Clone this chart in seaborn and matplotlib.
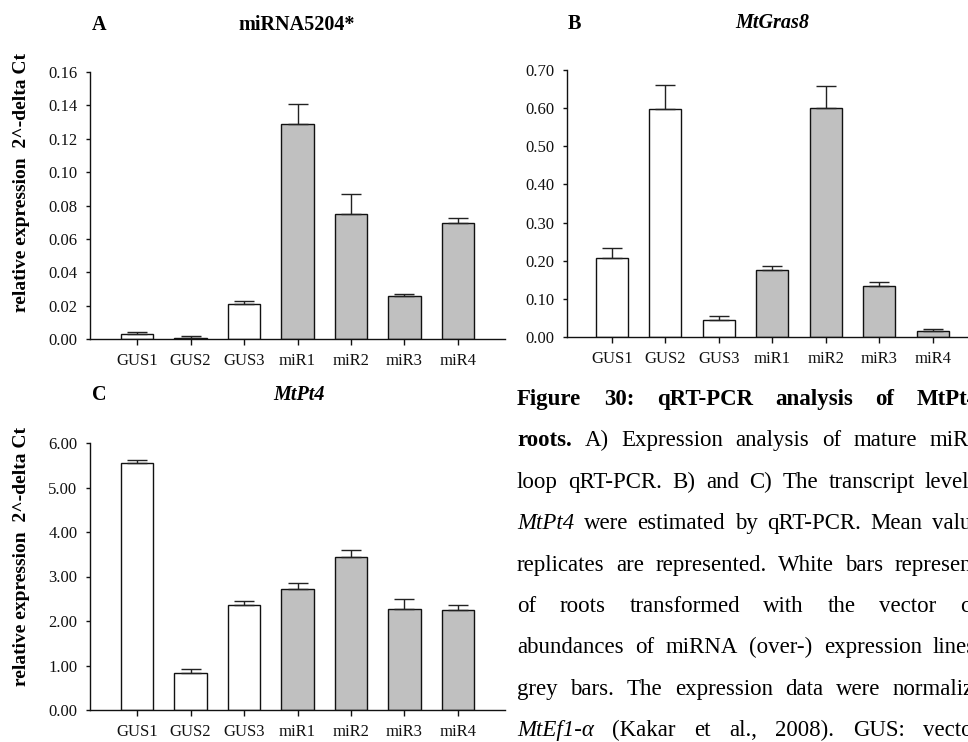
import numpy as np
import pandas as pd
import matplotlib
matplotlib.use("Agg")
import matplotlib.pyplot as plt
import seaborn as sns

# ---- data -------------------------------------------------------------
samples = ["GUS1", "GUS2", "GUS3", "miR1", "miR2", "miR3", "miR4"]
lines = ["GUS", "GUS", "GUS", "miR", "miR", "miR", "miR"]

mir5204_mean = [0.0028, 0.0008, 0.0209, 0.1287, 0.0752, 0.0257, 0.0696]
mir5204_err = [0.0012, 0.0008, 0.0016, 0.0122, 0.0114, 0.0010, 0.0032]

gras8_mean = [0.206, 0.597, 0.044, 0.175, 0.600, 0.135, 0.015]
gras8_err = [0.028, 0.063, 0.011, 0.012, 0.059, 0.010, 0.007]

pt4_mean = [5.55, 0.84, 2.36, 2.72, 3.44, 2.27, 2.24]
pt4_err = [0.07, 0.08, 0.08, 0.14, 0.16, 0.22, 0.13]

mir5204_ticks = [0.00, 0.02, 0.04, 0.06, 0.08, 0.10, 0.12, 0.14, 0.16]
gras8_ticks = [0.00, 0.10, 0.20, 0.30, 0.40, 0.50, 0.60, 0.70]
pt4_ticks = [0.00, 1.00, 2.00, 3.00, 4.00, 5.00, 6.00]

ylabel_text = "relative expression  2^-delta Ct"

# ---- style ------------------------------------------------------------
sns.set_theme(style="ticks")
plt.rcParams["font.family"] = ["Liberation Serif", "DejaVu Serif"]
plt.rcParams["text.color"] = "black"

W, H = 968, 742
fig = plt.figure(figsize=(W / 100, H / 100), dpi=100)
fig.patch.set_facecolor("white")

palette = {"GUS": "white", "miR": "#c0c0c0"}


def fx(px):
    return px / W


def fy(py):
    return 1 - py / H


def panel(left, top, bottom, width_px, means, errs, ticks, xlim):
    ax = fig.add_axes([fx(left), fy(bottom), width_px / W, (bottom - top) / H])
    df = pd.DataFrame({"sample": samples, "value": means, "line": lines})
    sns.barplot(data=df, x="sample", y="value", hue="line", palette=palette,
                dodge=False, width=0.6, edgecolor="#111111", linewidth=1.0,
                errorbar=None, legend=False, ax=ax)
    pos = np.arange(len(samples))
    ax.errorbar(pos, means, yerr=[np.zeros(len(means)), errs], fmt="none",
                ecolor="#222222", elinewidth=1.0, capsize=7, capthick=1.0,
                zorder=1)
    ax.set_xlim(*xlim)
    ax.set_ylim(ticks[0], ticks[-1])
    ax.set_yticks(ticks)
    ax.set_yticklabels([f"{t:.2f}" for t in ticks])
    ax.set_xlabel("")
    ax.set_ylabel("")
    ax.set_facecolor("none")
    for s in ("top", "right"):
        ax.spines[s].set_visible(False)
    for s in ("left", "bottom"):
        ax.spines[s].set_color("#111111")
        ax.spines[s].set_linewidth(1.0)
    ax.tick_params(axis="y", direction="out", length=3, width=1,
                   pad=6, labelsize=12, colors="#111111")
    ax.tick_params(axis="x", direction="out", length=4, width=1,
                   pad=6, labelsize=12, colors="#111111")
    return ax


axA = panel(90, 72, 339, 415, mir5204_mean, mir5204_err, mir5204_ticks,
            (-0.88, 6.88))
axB = panel(567, 70, 337, 415, gras8_mean, gras8_err, gras8_ticks,
            (-0.84, 6.92))
axC = panel(90, 443, 710, 415, pt4_mean, pt4_err, pt4_ticks,
            (-0.88, 6.88))

# panel letters and titles
title_kw = dict(fontsize=14.5, fontweight="bold", va="center")
fig.text(fx(92), fy(25), "A", ha="left", **title_kw)
fig.text(fx(297), fy(25), "miRNA5204*", ha="center", **title_kw)
fig.text(fx(568), fy(24), "B", ha="left", **title_kw)
fig.text(fx(772), fy(23), "MtGras8", ha="center", fontstyle="italic", **title_kw)
fig.text(fx(92), fy(395), "C", ha="left", **title_kw)
fig.text(fx(299), fy(395), "MtPt4", ha="center", fontstyle="italic", **title_kw)

# y-axis labels
fig.text(fx(22), fy(183), ylabel_text, rotation=90, ha="center", va="center",
         fontsize=14, fontweight="bold")
fig.text(fx(22), fy(557), ylabel_text, rotation=90, ha="center", va="center",
         fontsize=14, fontweight="bold")

# ---- caption: justified lines, each from a left start to its last word --
caption_lines = [
    [("Figure", "b"), ("30:", "b"), ("qRT-PCR", "b"), ("analysis", "b"),
     ("of", "b"), ("MtPt4", "b")],
    [("roots.", "b"), ("A)", "n"), ("Expression", "n"), ("analysis", "n"),
     ("of", "n"), ("mature", "n"), ("miRNA5204*", "n")],
    [("loop", "n"), ("qRT-PCR.", "n"), ("B)", "n"), ("and", "n"),
     ("C)", "n"), ("The", "n"), ("transcript", "n"), ("levels", "n")],
    [("MtPt4", "i"), ("were", "n"), ("estimated", "n"), ("by", "n"),
     ("qRT-PCR.", "n"), ("Mean", "n"), ("values", "n")],
    [("replicates", "n"), ("are", "n"), ("represented.", "n"),
     ("White", "n"), ("bars", "n"), ("represent", "n")],
    [("of", "n"), ("roots", "n"), ("transformed", "n"), ("with", "n"),
     ("the", "n"), ("vector", "n"), ("control", "n")],
    [("abundances", "n"), ("of", "n"), ("miRNA", "n"), ("(over-)", "n"),
     ("expression", "n"), ("lines", "n")],
    [("grey", "n"), ("bars.", "n"), ("The", "n"), ("expression", "n"),
     ("data", "n"), ("were", "n"), ("normalized", "n")],
    [("MtEf1-α", "i"), ("(Kakar", "n"), ("et", "n"), ("al.,", "n"),
     ("2008).", "n"), ("GUS:", "n"), ("vector", "n")],
]
caption_left = 517
last_word_x = [917, 930, 925, 932, 895, 960, 933, 893, 923]
first_baseline = 405
line_step = 41.4

renderer = fig.canvas.get_renderer()
for i, words in enumerate(caption_lines):
    yb = first_baseline + i * line_step
    texts = []
    for word, style in words:
        t = fig.text(fx(caption_left), fy(yb), word, ha="left", va="baseline",
                     fontsize=16.5,
                     fontweight="bold" if style == "b" else "normal",
                     fontstyle="italic" if style == "i" else "normal")
        texts.append(t)
    widths = [t.get_window_extent(renderer).width for t in texts]
    n = len(texts)
    gap = (last_word_x[i] - caption_left - sum(widths[:-1])) / (n - 1)
    x = caption_left
    for t, w in zip(texts, widths):
        t.set_x(fx(x))
        x += w + gap

fig.savefig("out.png", dpi=100, facecolor="white")
